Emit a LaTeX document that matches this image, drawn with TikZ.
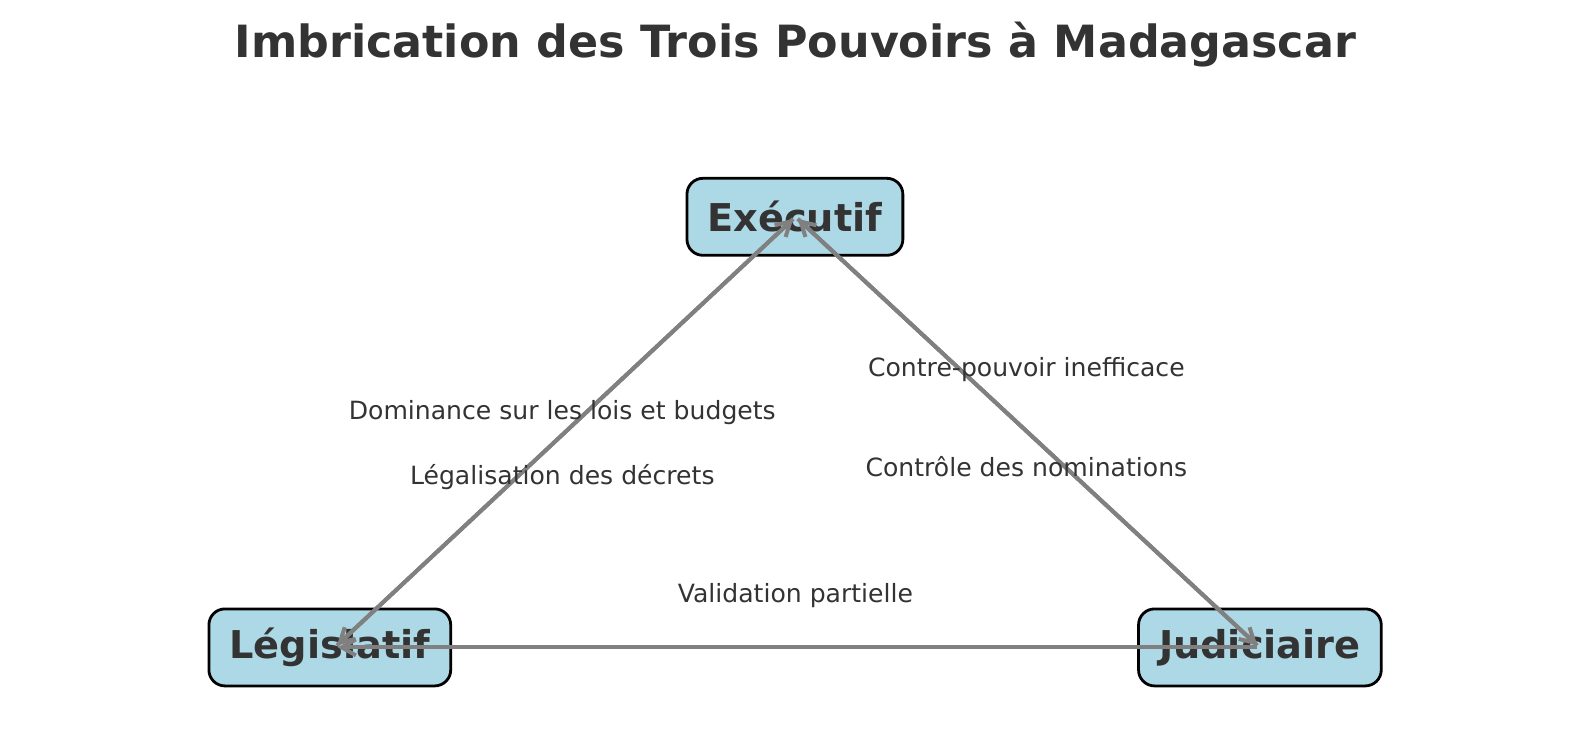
\documentclass[tikz,border=0pt]{standalone}
\usepackage{fontspec}
\setmainfont{DejaVu Sans}
\usetikzlibrary{arrows.meta}
\definecolor{txt}{HTML}{333333}
\definecolor{boxfill}{HTML}{ADD8E6}
\definecolor{arrowgray}{HTML}{808080}
\begin{document}
\begin{tikzpicture}[x=1pt,y=-1pt,
  power/.style={draw=black, line width=2.8pt, fill=boxfill, rounded corners=16pt,
    text=txt, font=\fontsize{38.3}{44}\selectfont\bfseries, inner xsep=20.5pt,
    minimum height=77pt, anchor=center},
  link/.style={draw=arrowgray, line width=4pt, shorten >=3pt, shorten <=3pt,
    -{Straight Barb[length=14pt,width=16pt]}},
  lbl/.style={text=txt, font=\fontsize{25.1}{29}\selectfont, anchor=center, inner sep=0pt},
  ttl/.style={text=txt, font=\fontsize{44.4}{50}\selectfont\bfseries, anchor=center, inner sep=0pt}
]
\fill[white] (0,0) rectangle (1589,740);
\useasboundingbox (0,0) rectangle (1589,740);

\node[ttl] (title) at (795.4,44.5) {Imbrication des Trois Pouvoirs à Madagascar};

\node[power] (E) at (794.9,216.8) {Exécutif};
\node[power] (L) at (329.8,647.4) {Législatif};
\node[power] (J) at (1259.9,647.4) {Judiciaire};

\coordinate (pE) at ([xshift=0.6pt]E.center);
\coordinate (pL) at ([xshift=5pt]L.center);
\coordinate (pJ) at ([xshift=-0.4pt]J.center);

\draw[link] (pE) -- (pL);
\draw[link] (pL) -- (pE);
\draw[link] (pE) -- (pJ);
\draw[link] (pJ) -- (pE);
\draw[link] (pJ) -- (pL);

\node[lbl] (l1) at (562.3,413) {Dominance sur les lois et budgets};
\node[lbl] (l2) at (562.3,477) {Légalisation des décrets};
\node[lbl] (l3) at (1026.4,369.5) {Contre-pouvoir inefficace};
\node[lbl] (l4) at (1026.4,466.8) {Contrôle des nominations};
\node[lbl] (l5) at (795.4,595.5) {Validation partielle};
\end{tikzpicture}
\end{document}
